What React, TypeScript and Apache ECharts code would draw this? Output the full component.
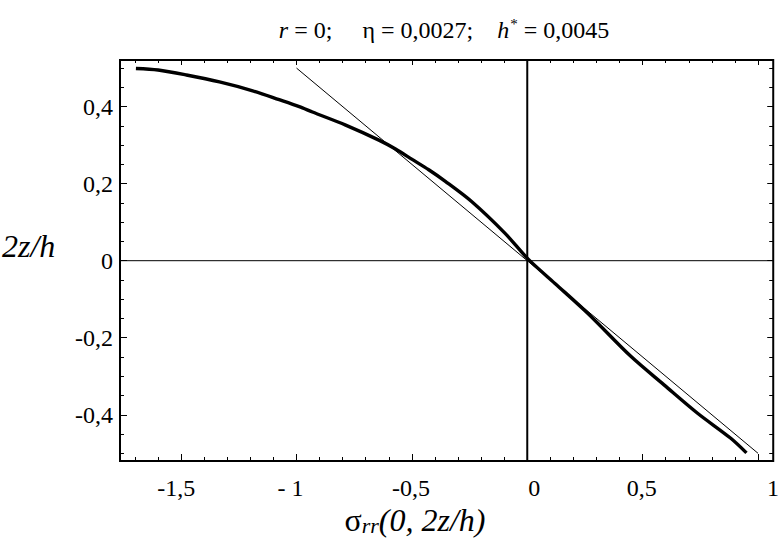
import React, { useEffect, useRef } from "react";
import * as echarts from "echarts";

// ---- axis ranges & ticks ----
const X_MIN = -1.765;
const X_MAX = 1.066;
const Y_MIN = -0.52;
const Y_MAX = 0.521;

const X_MAJOR = [-1.5, -1, -0.5, 0, 0.5, 1];
const X_MAJOR_LABELS = ["-1,5", "- 1", "-0,5", "0", "0,5", "1"];
const X_MINOR = [
  -1.7, -1.6, -1.4, -1.3, -1.2, -1.1, -0.9, -0.8, -0.7, -0.6, -0.4, -0.3, -0.2,
  -0.1, 0.1, 0.2, 0.3, 0.4, 0.6, 0.7, 0.8, 0.9,
];
const Y_MAJOR = [-0.4, -0.2, 0, 0.2, 0.4];
const Y_MAJOR_LABELS = ["-0,4", "-0,2", "0", "0,2", "0,4"];
const Y_MINOR = [
  -0.5, -0.45, -0.35, -0.3, -0.25, -0.15, -0.1, -0.05, 0.05, 0.1, 0.15, 0.25,
  0.3, 0.35, 0.45, 0.5,
];

// ---- thick curve: sigma_rr(0, 2z/h) ----
const SIGMA_RR = [
  -1.696, -1.6, -1.477, -1.334, -1.19, -1.075, -0.988, -0.931, -0.787, -0.643,
  -0.571, -0.499, -0.427, -0.355, -0.24, -0.096, 0.004, 0.12, 0.263, 0.45,
  0.594, 0.738, 0.882, 0.95,
];
const Z_THICK = [
  0.499, 0.495, 0.482, 0.464, 0.441, 0.418, 0.4, 0.386, 0.352, 0.313, 0.29,
  0.263, 0.236, 0.206, 0.153, 0.071, 0.004, -0.059, -0.137, -0.249, -0.323,
  -0.396, -0.461, -0.499,
];

// ---- thin straight line ----
const LINE_X = [-1, 1];
const LINE_Z = [0.5, -0.5];

// label horizontal shift (px) to mimic original label placement
const X_LABEL_SHIFT = [-5, -6, -1, 7, -1, 15];

const FONT = "Liberation Serif";
const NB = "\u00A0";

export default function App() {
  const ref = useRef<HTMLDivElement>(null);

  useEffect(() => {
    if (!ref.current) return;
    const chart = echarts.init(ref.current, null, { renderer: "svg" });

    const xRich: Record<string, any> = {};
    X_LABEL_SHIFT.forEach((d, i) => {
      xRich["s" + i] = {
        fontFamily: FONT,
        fontSize: 24,
        color: "#000",
        padding: d >= 0 ? [0, 0, 0, 2 * d] : [0, -2 * d, 0, 0],
      };
    });

    const idx = (arr: number[], v: number) =>
      arr.findIndex((m) => Math.abs(m - v) < 1e-9);

    const baseX = {
      type: "value" as const,
      min: X_MIN,
      max: X_MAX,
      splitLine: { show: false },
      axisLine: { show: false, onZero: false },
    };
    const baseY = {
      type: "value" as const,
      min: Y_MIN,
      max: Y_MAX,
      splitLine: { show: false },
      axisLine: { show: false, onZero: false },
    };
    const tickStyle = { color: "#000", width: 1 };

    const thick = SIGMA_RR.map((x, i) => [x, Z_THICK[i]]);
    const thin = LINE_X.map((x, i) => [x, LINE_Z[i]]);

    chart.setOption({
      animation: false,
      backgroundColor: "#fff",
      textStyle: { fontFamily: FONT },
      grid: {
        left: 120,
        right: 6,
        top: 60,
        bottom: 92,
        show: true,
        borderColor: "#000",
        borderWidth: 2,
        backgroundColor: "transparent",
      },
      xAxis: [
        {
          ...baseX,
          position: "bottom",
          axisTick: {
            inside: true,
            length: 7,
            customValues: X_MAJOR,
            lineStyle: tickStyle,
          },
          axisLabel: {
            customValues: X_MAJOR,
            margin: 15,
            fontFamily: FONT,
            fontSize: 24,
            color: "#000",
            formatter: (v: number) => {
              const i = idx(X_MAJOR, v);
              return i < 0 ? "" : `{s${i}|${X_MAJOR_LABELS[i]}}`;
            },
            rich: xRich,
          },
        },
        {
          ...baseX,
          position: "bottom",
          axisTick: {
            inside: true,
            length: 4,
            customValues: X_MINOR,
            lineStyle: tickStyle,
          },
          axisLabel: { show: false },
        },
        {
          ...baseX,
          position: "top",
          axisTick: {
            inside: true,
            length: 5,
            customValues: X_MAJOR,
            lineStyle: tickStyle,
          },
          axisLabel: { show: false },
        },
        {
          ...baseX,
          position: "top",
          axisTick: {
            inside: true,
            length: 3,
            customValues: X_MINOR,
            lineStyle: tickStyle,
          },
          axisLabel: { show: false },
        },
      ],
      yAxis: [
        {
          ...baseY,
          position: "left",
          axisTick: {
            inside: true,
            length: 7,
            customValues: Y_MAJOR,
            lineStyle: tickStyle,
          },
          axisLabel: {
            customValues: Y_MAJOR,
            margin: 7,
            fontFamily: FONT,
            fontSize: 24,
            color: "#000",
            formatter: (v: number) => {
              const i = idx(Y_MAJOR, v);
              return i < 0 ? "" : Y_MAJOR_LABELS[i];
            },
          },
        },
        {
          ...baseY,
          position: "left",
          axisTick: {
            inside: true,
            length: 4,
            customValues: Y_MINOR,
            lineStyle: tickStyle,
          },
          axisLabel: { show: false },
        },
        {
          ...baseY,
          position: "right",
          axisTick: {
            inside: true,
            length: 6,
            customValues: Y_MAJOR,
            lineStyle: tickStyle,
          },
          axisLabel: { show: false },
        },
        {
          ...baseY,
          position: "right",
          axisTick: {
            inside: true,
            length: 4,
            customValues: Y_MINOR,
            lineStyle: tickStyle,
          },
          axisLabel: { show: false },
        },
      ],
      series: [
        {
          type: "line",
          name: "zero-z",
          data: [
            [X_MIN, 0],
            [X_MAX, 0],
          ],
          symbol: "none",
          lineStyle: { color: "#000", width: 1 },
          silent: true,
          z: 1,
        },
        {
          type: "line",
          name: "zero-sigma",
          data: [
            [0, Y_MIN],
            [0, Y_MAX],
          ],
          symbol: "none",
          lineStyle: { color: "#000", width: 2 },
          silent: true,
          z: 1,
        },
        {
          type: "line",
          name: "linear",
          data: thin,
          symbol: "none",
          lineStyle: { color: "#000", width: 1 },
          z: 2,
        },
        {
          type: "line",
          name: "sigma_rr",
          data: thick,
          symbol: "none",
          smooth: 0.3,
          lineStyle: { color: "#000", width: 3.4 },
          z: 3,
        },
      ],
      graphic: [
        {
          type: "text",
          x: 444,
          y: 30,
          style: {
            text: `{i|r}{n|${NB}=${NB}0;${NB}${NB}${NB}${NB}${NB}η${NB}=${NB}0,0027;${NB}${NB}${NB}${NB}}{i|h}{sup|*}{n|${NB}=${NB}0,0045}`,
            align: "center",
            verticalAlign: "middle",
            fill: "#000",
            fontFamily: FONT,
            fontSize: 24,
            rich: {
              i: { fontFamily: FONT, fontSize: 24, fontStyle: "italic", fill: "#000" },
              n: { fontFamily: FONT, fontSize: 24, fill: "#000" },
              sup: {
                fontFamily: FONT,
                fontSize: 15,
                fill: "#000",
                verticalAlign: "top",
                padding: [0, 0, 12, 1],
              },
            },
          },
        },
        {
          type: "text",
          x: 415,
          y: 520,
          style: {
            text: `{n|σ}{sub|rr}{i|(0,${NB}2z/h)}`,
            align: "center",
            verticalAlign: "middle",
            fill: "#000",
            fontFamily: FONT,
            fontSize: 32,
            rich: {
              n: { fontFamily: FONT, fontSize: 32, fill: "#000" },
              sub: {
                fontFamily: FONT,
                fontSize: 22,
                fontStyle: "italic",
                fill: "#000",
                verticalAlign: "bottom",
                padding: [10, 0, 0, 0],
              },
              i: { fontFamily: FONT, fontSize: 32, fontStyle: "italic", fill: "#000" },
            },
          },
        },
        {
          type: "text",
          x: 2,
          y: 246,
          style: {
            text: "2z/h",
            align: "left",
            verticalAlign: "middle",
            fill: "#000",
            fontFamily: FONT,
            fontSize: 32,
            fontStyle: "italic",
          },
        },
      ],
    });

    return () => chart.dispose();
  }, []);

  return (
    <div
      ref={ref}
      style={{
        position: "fixed",
        left: 0,
        top: 0,
        width: 782,
        height: 553,
        background: "#fff",
      }}
    />
  );
}
